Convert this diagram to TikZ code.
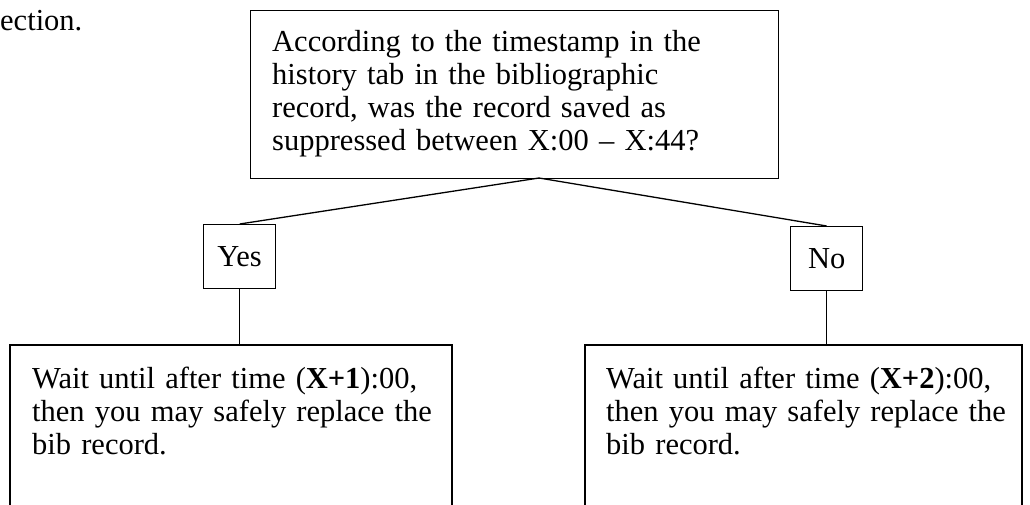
\documentclass[tikz,border=0pt]{standalone}
\usepackage{fontspec}
\setmainfont{Liberation Serif}
\begin{document}
\begin{tikzpicture}[x=1pt,y=-1pt,
  box/.style={draw,line width=1.3pt,inner sep=0pt},
  txt/.style={anchor=base west,align=left,inner sep=0pt,font=\fontsize{30.5}{33}\selectfont},
  conn/.style={line width=1.3pt}]
\useasboundingbox (0,0) rectangle (1030,505);
\node[txt] (pre) at (0,31) {ection.};
% top box
\node[box,minimum width=528pt,minimum height=168pt,anchor=north west] (q) at (250,10) {};
\node[txt,text width=500pt] (qt) at (272,52) {According to the timestamp in the\\history tab in the bibliographic\\record, was the record saved as\\suppressed between X:00 -- X:44?};
% yes / no
\node[box,minimum width=72pt,minimum height=64pt,anchor=north west] (yes) at (203,224) {};
\node[txt,anchor=center] (yest) at (yes.center) {Yes};
\node[box,minimum width=72pt,minimum height=64pt,anchor=north west] (no) at (790,226) {};
\node[txt,anchor=center] (not) at (no.center) {No};
\coordinate (apex) at (539,178);
\draw[conn] (apex) -- (yes.north);
\draw[conn] (apex) -- (no.north);
% bottom boxes (open at bottom)
\coordinate (l1) at (10,520); \coordinate (l2) at (10,345); \coordinate (l3) at (452,345); \coordinate (l4) at (452,520);
\coordinate (r1) at (585,520); \coordinate (r2) at (585,345); \coordinate (r3) at (1022,345); \coordinate (r4) at (1022,520);
\draw[conn] (l1) -- (l2) -- (l3) -- (l4);
\draw[conn] (r1) -- (r2) -- (r3) -- (r4);
\coordinate (yesdown) at (yes.south |- l2);
\coordinate (nodown) at (no.south |- r2);
\draw[conn] (yes.south) -- (yesdown);
\draw[conn] (no.south) -- (nodown);
\node[txt,text width=420pt] (lt) at (32,388) {Wait until after time (\textbf{X+1}):00,\\then you may safely replace the\\bib record.};
\node[txt,text width=420pt] (rt) at (606,388) {Wait until after time (\textbf{X+2}):00,\\then you may safely replace the\\bib record.};
\end{tikzpicture}
\end{document}
